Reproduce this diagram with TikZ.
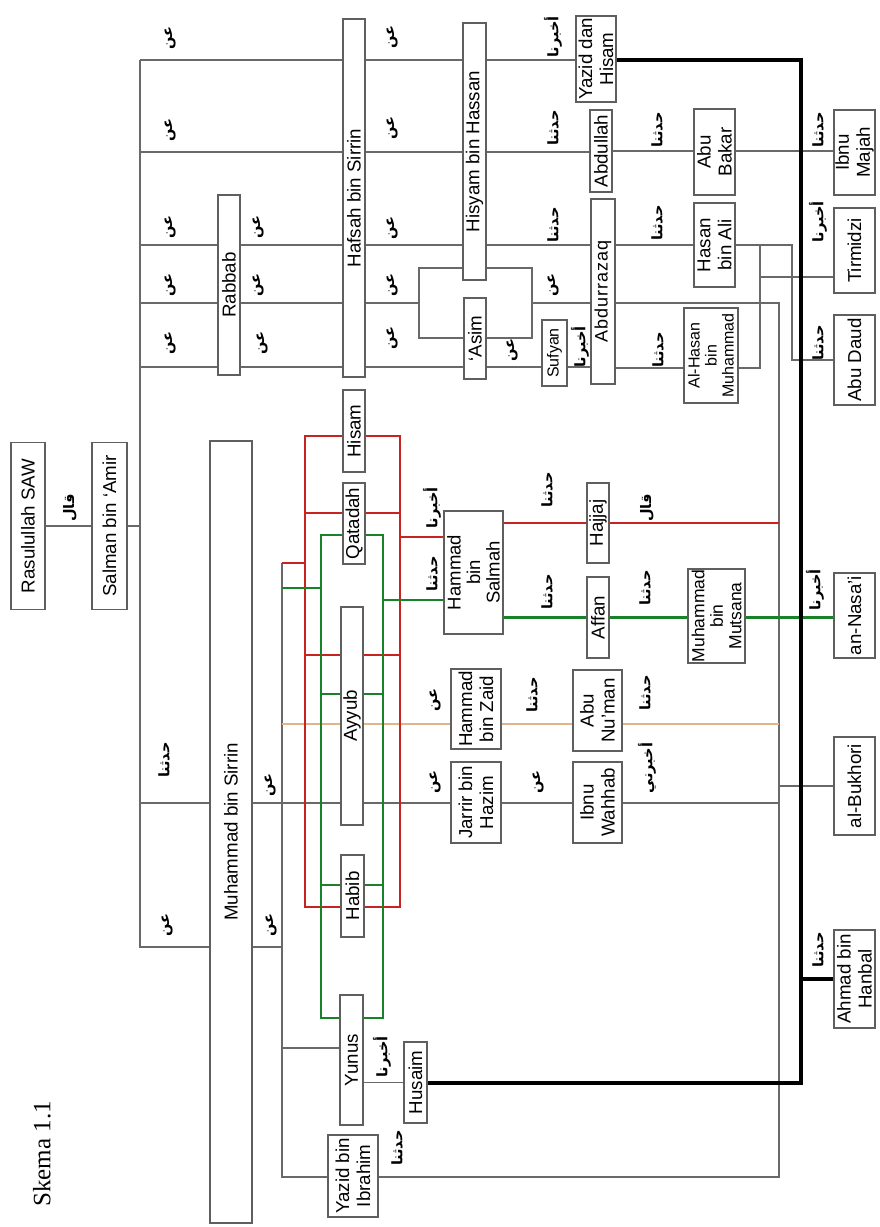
\documentclass[tikz,border=0pt]{standalone}
\usepackage{fontspec}
\setmainfont{Liberation Serif}
\setsansfont{Liberation Sans}
\newfontfamily\arabicfont[Script=Arabic]{DejaVu Sans}
\TeXXeTstate=1
\pgfdeclarelayer{bg}
\pgfsetlayers{bg,main}
\definecolor{boxgray}{RGB}{95,95,95}
\definecolor{linegray}{RGB}{105,105,105}
\definecolor{redl}{RGB}{200,35,35}
\definecolor{greenl}{RGB}{25,130,40}
\definecolor{tanl}{RGB}{225,180,140}
\newcommand\bx[7][]{\node[box,minimum width=#5pt,minimum height=#6pt,#1] (#2) at (#3,#4) {#7};}
\newcommand\lb[4]{\node[lab] (#1) at (#2,#3) {\beginR #4\endR};}
\begin{document}
\begin{tikzpicture}[x=1pt,y=-1pt,
 box/.style={draw=boxgray,line width=1.2pt,fill=white,inner sep=0pt,outer sep=0pt,rotate=90,align=center,font=\sffamily\fontsize{18.7}{21}\selectfont},
 lab/.style={inner sep=0pt,rotate=90,font=\arabicfont\bfseries\fontsize{14.5}{16}\selectfont},
 gl/.style={draw=linegray,line width=1.4pt},
 rl/.style={draw=redl,line width=2.7pt},
 grl/.style={draw=greenl,line width=2.7pt},
 tl/.style={draw=tanl,line width=1.6pt},
 bl/.style={draw=black,line width=3.2pt},
]
\useasboundingbox (0,0) rectangle (880,1227);
\begin{pgfonlayer}{bg}
\fill[white] (0,0) rectangle (880,1227);
\end{pgfonlayer}

% boxes
\bx{rasul}{28}{526}{167}{34}{Rasulullah SAW}
\bx{salman}{109.5}{526}{167}{35}{Salman bin ‘Amir}
\bx{rabbab}{229}{285}{180}{22}{Rabbab}
\bx{hafsah}{354}{198}{358}{22}{Hafsah bin Sirrin}
\bx{hisyam}{474.5}{151.5}{257}{23}{Hisyam bin Hassan}
\bx{asim}{475}{338.5}{81}{22}{‘Asim}
\bx[font=\sffamily\fontsize{16}{17}\selectfont]{sufyan}{554.5}{353}{66}{25}{Sufyan}
\bx[font=\sffamily\fontsize{18}{20}\selectfont\addfontfeature{LetterSpace=6}]{abdurrazaq}{603}{291.5}{185}{24}{Abdurrazaq}
\bx{abdullah}{601}{151}{82}{22}{Abdullah}
\bx{yazidh}{596}{59}{86}{40}{Yazid dan\\Hisam}
\bx{abubakar}{714.5}{152}{86}{41}{Abu\\Bakar}
\bx{hasanali}{714.5}{245}{84}{41}{Hasan\\bin Ali}
\bx[font=\sffamily\fontsize{16}{17}\selectfont]{alhasan}{711}{355.5}{95}{54}{Al-Hasan\\bin\\Muhammad}
\bx{ibnumajah}{854.5}{152.5}{85}{41}{Ibnu\\Majah}
\bx{tirmidzi}{854.5}{250.5}{85}{41}{Tirmidzi}
\bx{abudaud}{854.5}{360}{90}{41}{Abu Daud}
\bx{mbs}{231}{832}{782}{42}{Muhammad bin Sirrin}
\bx{hisam}{354}{431}{82}{22}{Hisam}
\bx{qatadah}{354}{523.5}{81}{22}{Qatadah}
\bx{ayyub}{352}{716}{218}{22}{Ayyub}
\bx{habib}{352.5}{896}{82}{23}{Habib}
\bx{yunus}{351.5}{1060}{130}{23}{Yunus}
\bx{husaim}{415.5}{1082.5}{81}{23}{Husaim}
\bx{yazidi}{353}{1176}{82}{50}{Yazid bin\\Ibrahim}
\bx[font=\sffamily\fontsize{18.5}{19.5}\selectfont]{hbsalmah}{473.5}{572.5}{123}{59}{Hammad\\bin\\Salmah}
\bx{hbzaid}{476}{709}{80}{50}{Hammad\\bin Zaid}
\bx{jarrir}{476}{802.5}{81}{50}{Jarrir bin\\Hazim}
\bx{hajjaj}{598}{523}{80}{22}{Hajjaj}
\bx{affan}{598}{617.5}{81}{22}{Affan}
\bx{abunuman}{597.5}{710.5}{81}{49}{Abu\\Nu’man}
\bx{ibnuwahhab}{597.5}{802.5}{81}{49}{Ibnu\\Wahhab}
\bx[font=\sffamily\fontsize{17.5}{18.5}\selectfont]{mbmutsana}{716.5}{616}{94}{57}{Muhammad\\bin\\Mutsana}
\bx{nasai}{854.5}{615.5}{85}{41}{an-Nasa’i}
\bx{bukhori}{854.5}{786}{98}{41}{al-Bukhori}
\bx{ahmad}{854.5}{979}{98}{41}{Ahmad bin\\Hanbal}

\node[rotate=90,inner sep=0pt,font=\rmfamily\fontsize{25}{30}\selectfont] (skema) at (42,1154) {Skema 1.1};

% junction coordinates
\coordinate (b1a) at (140,60);
\coordinate (b1b) at (140,947);
\coordinate (h152) at (140,152);
\coordinate (h245) at (140,245);
\coordinate (h303) at (140,303);
\coordinate (h367) at (140,367);
\coordinate (h803) at (140,803);
\coordinate (rect1) at (419,268);
\coordinate (rect2) at (532,338);
\coordinate (rectL) at (419,303);
\coordinate (rectR) at (532,303);
\coordinate (j792a) at (792,245);
\coordinate (j792b) at (792,360);
\coordinate (j760a) at (760,245);
\coordinate (j760b) at (760,368);
\coordinate (j760t) at (760,277);
\coordinate (j779a) at (779,303);
\coordinate (j779b) at (779,1177);
\coordinate (j779c) at (779,786);
\coordinate (j779d) at (779,803);
\coordinate (j779e) at (779,724);
\coordinate (b2a) at (282,563);
\coordinate (b2b) at (282,1177);
\coordinate (b2g) at (282,588);
\coordinate (b2t) at (282,724);
\coordinate (b2u) at (282,1048);
\coordinate (rA) at (305,436);
\coordinate (rD) at (400,907);
\coordinate (r513a) at (305,513);
\coordinate (r513b) at (400,513);
\coordinate (r655a) at (305,655);
\coordinate (r655b) at (400,655);
\coordinate (r537) at (400,537);
\coordinate (gA) at (321,535);
\coordinate (gD) at (383,1018);
\coordinate (g694a) at (321,694);
\coordinate (g694b) at (383,694);
\coordinate (g885a) at (321,885);
\coordinate (g885b) at (383,885);
\coordinate (g600) at (383,600);
\coordinate (k1) at (801,60);
\coordinate (k2) at (801,1083);

\begin{pgfonlayer}{bg}
% gray connectors
\draw[gl] (rasul.south) -- (salman.north);
\draw[gl] (salman.south) -- (salman.south -| b1a);
\draw[gl] (b1a) -- (b1b) -- (mbs.north |- b1b);
\draw[gl] (b1a) -- (yazidh.north |- b1a);
\draw[gl] (h152) -- (abdullah.north |- h152);
\draw[gl] (h245) -- (abdurrazaq.north |- h245);
\draw[gl] (h303) -- (rectL);
\draw[gl] (rect1) rectangle (rect2);
\draw[gl] (rectR) -- (abdurrazaq.north |- rectR);
\draw[gl] (h367) -- (sufyan.north |- h367);
\draw[gl] (sufyan.south |- h367) -- (abdurrazaq.north |- h367);
\draw[gl] (abdullah.south) -- (ibnumajah.north |- abdullah.south);
\draw[gl] (abdurrazaq.south |- h245) -- (hasanali.north |- h245);
\draw[gl] (hasanali.south |- h245) -- (j792a) -- (j792b) -- (abudaud.north |- j792b);
\draw[gl] (j760a) -- (j760b) -- (alhasan.south |- j760b);
\draw[gl] (j760t) -- (tirmidzi.north |- j760t);
\draw[gl] (abdurrazaq.south |- j760b) -- (alhasan.north |- j760b);
\draw[gl] (abdurrazaq.south |- j779a) -- (j779a) -- (j779b) -- (yazidi.south |- j779b);
\draw[gl] (j779c) -- (bukhori.north |- j779c);
\draw[gl] (h803) -- (mbs.north |- h803);
\draw[gl] (mbs.south |- h803) -- (b2a |- h803);
\draw[gl] (mbs.south |- b1b) -- (b2a |- b1b);
\draw[gl] (b2a) -- (b2b) -- (yazidi.north |- b2b);
\draw[gl] (b2u) -- (yunus.north |- b2u);
\draw[gl] (b2a |- h803) -- (jarrir.north |- h803);
\draw[gl] (jarrir.south |- h803) -- (ibnuwahhab.north |- h803);
\draw[gl] (ibnuwahhab.south |- h803) -- (j779d);
\draw[gl] (yunus.south |- husaim.north) -- (husaim.north);
% tan
\draw[tl] (b2t) -- (hbzaid.north |- b2t);
\draw[tl] (hbzaid.south |- b2t) -- (abunuman.north |- b2t);
\draw[tl] (abunuman.south |- b2t) -- (j779e);
% red
\draw[rl] (rA) rectangle (rD);
\draw[rl] (r513a) -- (r513b);
\draw[rl] (r655a) -- (r655b);
\draw[rl] (b2a) -- (rA |- b2a);
\draw[rl] (r537) -- (hbsalmah.north |- r537);
\draw[rl] (hbsalmah.south |- hajjaj.north) -- (hajjaj.north);
\draw[rl] (hajjaj.south) -- (hajjaj.south -| j779a);
% green
\draw[grl] (gA) rectangle (gD);
\draw[grl] (g694a) -- (g694b);
\draw[grl] (g885a) -- (g885b);
\draw[grl] (b2g) -- (gA |- b2g);
\draw[grl] (g600) -- (hbsalmah.north |- g600);
\draw[grl] (hbsalmah.south |- affan.north) -- (affan.north);
\draw[grl] (affan.south) -- (mbmutsana.north |- affan.south);
\draw[grl] (mbmutsana.south |- affan.south) -- (nasai.north |- affan.south);
% black
\draw[bl] (yazidh.south |- k1) -- (k1) -- (k2) -- (husaim.south |- k2);
\draw[bl] (k1 |- ahmad.north) -- (ahmad.north);
\end{pgfonlayer}

% labels
\lb{a1}{70}{508}{قال}
\lb{a2}{170}{38}{عن}
\lb{a3}{170}{130}{عن}
\lb{a4}{170}{227}{عن}
\lb{a5}{170}{285}{عن}
\lb{a6}{170}{343}{عن}
\lb{a7}{258}{227}{عن}
\lb{a8}{258}{285}{عن}
\lb{a9}{262}{343}{عن}
\lb{a10}{392}{37}{عن}
\lb{a11}{392}{128}{عن}
\lb{a12}{392}{228}{عن}
\lb{a13}{392}{285}{عن}
\lb{a14}{392}{338}{عن}
\lb{a15}{553}{37}{أخبرنا}
\lb{a16}{553}{128}{حدثنا}
\lb{a17}{553}{225}{حدثنا}
\lb{a18}{553}{285}{عن}
\lb{a19}{512}{350}{عن}
\lb{a20}{580}{347}{أخبرنا}
\lb{a21}{657}{130}{حدثنا}
\lb{a22}{657}{223}{حدثنا}
\lb{a23}{658}{350}{حدثنا}
\lb{a24}{818}{130}{حدثنا}
\lb{a25}{818}{222}{أخبرنا}
\lb{a26}{818}{343}{حدثنا}
\lb{a27}{164}{760}{حدثنا}
\lb{a28}{167}{925}{عن}
\lb{a29}{270}{785}{عن}
\lb{a30}{271}{925}{عن}
\lb{a31}{432}{508}{أخبرنا}
\lb{a32}{432}{574}{حدثنا}
\lb{a33}{435}{700}{عن}
\lb{a34}{435}{782}{عن}
\lb{a35}{547}{490}{حدثنا}
\lb{a36}{547}{592}{حدثنا}
\lb{a37}{532}{695}{حدثنا}
\lb{a38}{538}{782}{عن}
\lb{a39}{647}{508}{قال}
\lb{a40}{645}{588}{حدثنا}
\lb{a41}{645}{693}{حدثنا}
\lb{a42}{647}{768}{أخبرني}
\lb{a43}{815}{590}{أخبرنا}
\lb{a44}{382}{1057}{أخبرنا}
\lb{a45}{397}{1148}{حدثنا}
\lb{a46}{818}{950}{حدثنا}
\end{tikzpicture}
\end{document}
